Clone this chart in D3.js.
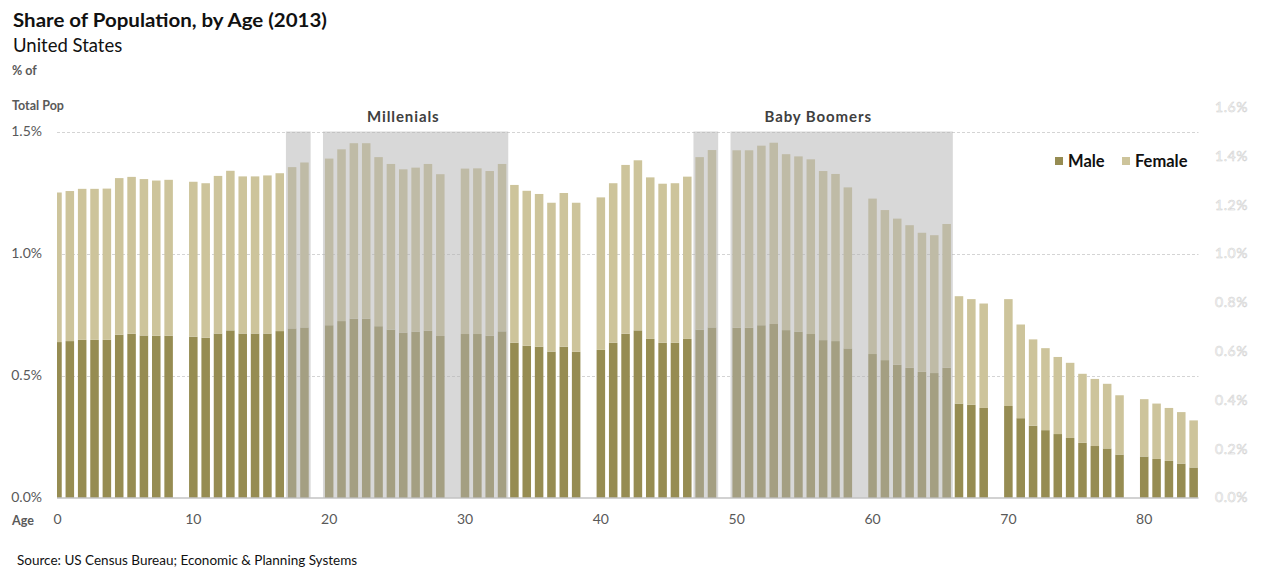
<!DOCTYPE html>
<html>
<head>
<meta charset="utf-8">
<script src="https://cdn.jsdelivr.net/npm/d3@7"></script>
<style>
  body { margin: 0; background: #fff; }
  svg { display: block; font-family: Lato, "Open Sans", sans-serif; }
</style>
</head>
<body>
<svg id="chart" width="1264" height="568"></svg>
<script>
// Share of US population by single year of age, 2013 (percent of total population)
const ages = d3.range(0, 85);

const male = [
  0.637, 0.641, 0.646, 0.646, 0.646, 0.667, 0.671, 0.664, 0.663, 0.663,
  0.659, 0.655, 0.672, 0.685, 0.672, 0.672, 0.672, 0.682, 0.693, 0.697,
  0.706, 0.723, 0.733, 0.733, 0.702, 0.688, 0.676, 0.680, 0.684, 0.662,
  0.670, 0.670, 0.663, 0.681, 0.634, 0.622, 0.618, 0.598, 0.618, 0.597,
  0.605, 0.634, 0.671, 0.685, 0.650, 0.634, 0.634, 0.650, 0.688, 0.697,
  0.696, 0.696, 0.706, 0.711, 0.686, 0.680, 0.670, 0.645, 0.641, 0.611,
  0.588, 0.563, 0.544, 0.532, 0.515, 0.510, 0.532, 0.385, 0.380, 0.367,
  0.375, 0.325, 0.294, 0.276, 0.260, 0.244, 0.224, 0.211, 0.201, 0.176,
  0.168, 0.158, 0.150, 0.139, 0.123
];

const female = [
  0.613, 0.615, 0.619, 0.619, 0.620, 0.642, 0.643, 0.641, 0.636, 0.639,
  0.635, 0.633, 0.646, 0.654, 0.644, 0.644, 0.648, 0.647, 0.661, 0.676,
  0.683, 0.704, 0.719, 0.719, 0.693, 0.679, 0.669, 0.672, 0.683, 0.663,
  0.678, 0.679, 0.675, 0.686, 0.647, 0.635, 0.626, 0.610, 0.630, 0.611,
  0.625, 0.654, 0.692, 0.697, 0.662, 0.652, 0.654, 0.665, 0.707, 0.727,
  0.727, 0.727, 0.736, 0.743, 0.721, 0.718, 0.716, 0.693, 0.685, 0.660,
  0.637, 0.615, 0.599, 0.584, 0.570, 0.565, 0.589, 0.440, 0.433, 0.428,
  0.438, 0.384, 0.354, 0.336, 0.316, 0.308, 0.283, 0.275, 0.265, 0.243,
  0.235, 0.227, 0.217, 0.211, 0.193
];

// Generations highlighted over the bars: [first age, last age] spans
const generations = [
  { name: "Millenials",   spans: [[18, 19], [20, 33]], labelAge: 26 },
  { name: "Baby Boomers", spans: [[48, 49], [50, 66]], labelAge: 56.6 }
];
const shadeTop = 1.5;

const leftTicks = [0, 0.5, 1.0, 1.5];
const rightTicks = [0, 0.2, 0.4, 0.6, 0.8, 1.0, 1.2, 1.4, 1.6];
const ageLabels = [0, 10, 20, 30, 40, 50, 60, 70, 80];

const seriesNames = ["Male", "Female"];
const colors = { Male: "#968c52", Female: "#cdc49b" };

const rows = ages.map((a, i) => ({ age: String(a), Male: male[i], Female: female[i] }));

// Category slots: one per age, with an empty slot before each new decade
const slots = [];
ages.forEach(a => { if (a > 0 && a % 10 === 0) slots.push("gap" + a); slots.push(String(a)); });

const svg = d3.select("#chart");
const plotLeft = 57, plotRight = 1198.5;

const x = d3.scaleBand().domain(slots).range([51.3, 1199.8]).paddingInner(0.31).paddingOuter(0.155);
const step = x.step();
const gapHalf = (step - x.bandwidth()) / 2;
const y = d3.scaleLinear().domain([0, 1.5]).range([497.5, 131.5]);

const xCenter = a => {
  const lo = Math.floor(a), f = a - lo;
  return x(String(lo)) + x.bandwidth() / 2 + f * step;
};

svg.append("defs").append("clipPath").attr("id", "plotClip")
  .append("rect").attr("x", plotLeft).attr("y", 0).attr("width", plotRight - plotLeft).attr("height", 568);

// Gridlines
svg.append("g").selectAll("line").data(leftTicks.filter(d => d > 0)).join("line")
  .attr("x1", plotLeft).attr("x2", plotRight)
  .attr("y1", d => Math.round(y(d)) + 0.5).attr("y2", d => Math.round(y(d)) + 0.5)
  .attr("stroke", "#d4d4d4").attr("stroke-dasharray", "3,2").attr("stroke-width", 1);

// Stacked bars
const stacked = d3.stack().keys(seriesNames)(rows);
const plot = svg.append("g").attr("clip-path", "url(#plotClip)");
plot.selectAll("g.series").data(stacked).join("g").attr("class", "series")
  .attr("fill", d => colors[d.key])
  .selectAll("rect").data(d => d).join("rect")
  .attr("x", d => x(d.data.age))
  .attr("width", x.bandwidth())
  .attr("y", d => y(d[1]))
  .attr("height", d => y(d[0]) - y(d[1]));

// Generation shading over the bars
generations.forEach(g => {
  plot.append("g").selectAll("rect").data(g.spans).join("rect")
    .attr("x", d => x(String(d[0])) - gapHalf)
    .attr("width", d => x(String(d[1])) + x.bandwidth() + gapHalf - (x(String(d[0])) - gapHalf))
    .attr("y", y(shadeTop))
    .attr("height", y(0) - y(shadeTop))
    .attr("fill", "rgba(178,178,178,0.5)");
  svg.append("text")
    .attr("x", xCenter(g.labelAge)).attr("y", 122)
    .attr("text-anchor", "middle")
    .attr("font-size", 15).attr("font-weight", "bold").attr("fill", "#404040")
    .attr("letter-spacing", 0.9)
    .text(g.name);
});

// Baseline
svg.append("line")
  .attr("x1", plotLeft).attr("x2", plotRight)
  .attr("y1", y(0) + 0.5).attr("y2", y(0) + 0.5)
  .attr("stroke", "#a6a6a6").attr("stroke-width", 1.2);

// Age axis
const xAxis = svg.append("g").attr("transform", `translate(0,${y(0)})`)
  .call(d3.axisBottom(x).tickValues(ageLabels.map(String)).tickSize(0).tickPadding(17));
xAxis.select(".domain").remove();
xAxis.selectAll("text").attr("font-size", 14).attr("fill", "#595959")
  .attr("font-family", "Lato, sans-serif");

// Left value axis
const yAxis = svg.append("g").attr("transform", "translate(42,0)")
  .call(d3.axisLeft(y).tickValues(leftTicks).tickFormat(d => d.toFixed(1) + "%").tickSize(0).tickPadding(0));
yAxis.select(".domain").remove();
yAxis.selectAll("text").attr("font-size", 14).attr("fill", "#595959")
  .attr("font-family", "Lato, sans-serif");

// Right value axis
const yAxisR = svg.append("g").attr("transform", "translate(1215,0)")
  .call(d3.axisRight(y).tickValues(rightTicks).tickFormat(d => d.toFixed(1) + "%").tickSize(0).tickPadding(0));
yAxisR.select(".domain").remove();
yAxisR.selectAll("text").attr("font-size", 14).attr("fill", "#fbfbfb")
  .attr("stroke", "#cfcfcf").attr("stroke-width", 0.5)
  .attr("letter-spacing", 0.6)
  .attr("font-family", "Lato, sans-serif");

// Titles and axis captions
svg.append("text").attr("x", 13).attr("y", 27)
  .attr("font-size", 18.5).attr("font-weight", "bold").attr("fill", "#111")
  .attr("textLength", 314).attr("lengthAdjust", "spacingAndGlyphs")
  .text("Share of Population, by Age (2013)");
svg.append("text").attr("x", 13).attr("y", 52)
  .attr("font-size", 18.5).attr("fill", "#111")
  .text("United States");
svg.append("text").attr("x", 12).attr("y", 75)
  .attr("font-size", 12.5).attr("font-weight", "bold").attr("fill", "#595959")
  .text("% of");
svg.append("text").attr("x", 12).attr("y", 110)
  .attr("font-size", 12.5).attr("font-weight", "bold").attr("fill", "#595959")
  .text("Total Pop");
svg.append("text").attr("x", 12).attr("y", 525)
  .attr("font-size", 12.5).attr("font-weight", "bold").attr("fill", "#595959")
  .text("Age");
svg.append("text").attr("x", 17).attr("y", 565)
  .attr("font-size", 13.5).attr("fill", "#111")
  .text("Source: US Census Bureau; Economic & Planning Systems");

// Legend
const legend = svg.append("g");
const legendItems = [{ key: "Male", x: 1055 }, { key: "Female", x: 1122 }];
legendItems.forEach(it => {
  legend.append("rect").attr("x", it.x).attr("y", 157).attr("width", 8).attr("height", 8)
    .attr("fill", colors[it.key]);
  legend.append("text").attr("x", it.x + 13).attr("y", 167)
    .attr("font-size", 16.5).attr("font-weight", "bold").attr("fill", "#111")
    .text(it.key);
});
</script>
</body>
</html>
